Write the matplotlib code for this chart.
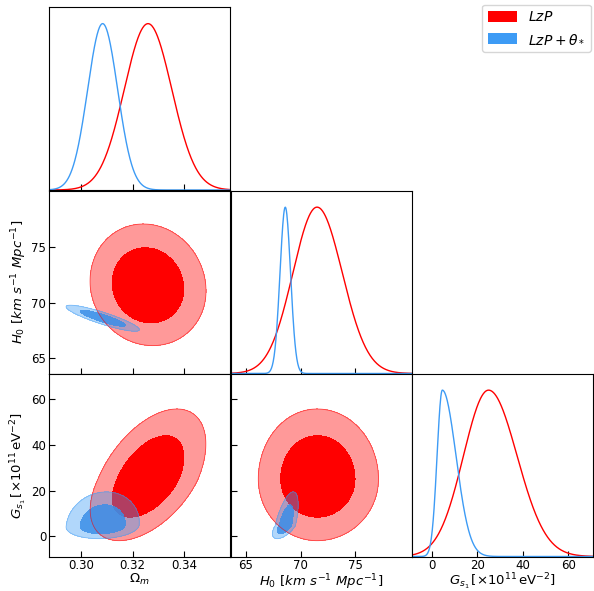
import numpy as np
import matplotlib
matplotlib.use('Agg')
import matplotlib.pyplot as plt
from matplotlib.patches import Patch

# parameter order: Omega_m, H0, G_s1
names = [r'$\Omega_m$', r'$H_0\ [km\ s^{-1}\ Mpc^{-1}]$',
         r'$G_{s_1}\,[\times 10^{11}\,\mathrm{eV}^{-2}]$']
limits = [(0.2876, 0.3579), (63.6, 80.15), (-8.7, 70.9)]
ticks = [[0.30, 0.32, 0.34], [65, 70, 75], [0, 20, 40, 60]]
ticklabels = [['0.30', '0.32', '0.34'], ['65', '70', '75'], ['0', '20', '40', '60']]

# LzP: mode, lower / upper widths, pair correlations
lzp_mode = [0.326, 71.5, 25.0]
lzp_lo = [0.0092, 2.2, 11.0]
lzp_hi = [0.0092, 2.3, 12.5]
lzp_corr = {(0, 1): -0.08, (0, 2): 0.5, (1, 2): 0.0}

# LzP + theta_*
th_mode = [0.3084, 68.6, 4.7]
th_lo = [0.0058, 0.48, 2.3]
th_hi = [0.0058, 0.48, 6.0]
th_corr = {(0, 1): -0.88, (0, 2): 0.1, (1, 2): 0.62}

labels = [r'$LzP$', r'$LzP+\theta_*$']
red = '#ff0000'
blue_line = '#3d9bf5'
blue_fill = '#3a8ee8'

datasets = [
    (lzp_mode, lzp_lo, lzp_hi, lzp_corr, red, red),
    (th_mode, th_lo, th_hi, th_corr, blue_line, blue_fill),
]


def zc(x, mode, lo, hi):
    return np.where(x < mode, (x - mode) / lo, (x - mode) / hi)


def contour_levels(P, fracs):
    flat = np.sort(P.ravel())[::-1]
    cum = np.cumsum(flat) / flat.sum()
    return [flat[np.searchsorted(cum, f)] for f in fracs]


fig = plt.figure(figsize=(5.94, 5.91), dpi=100)
W, H = 594.0, 591.0
col_left = [49.0, 230.5, 411.8]
row_top = [7.0, 190.5, 373.5]
pw, ph = 181.3, 183.0

n = 3
for i in range(n):
    for j in range(i + 1):
        ax = fig.add_axes([col_left[j] / W, 1 - (row_top[i] + ph) / H, pw / W, ph / H])
        ax.tick_params(direction='in', labelsize=8.5, length=4, pad=2)
        xs = np.linspace(limits[j][0], limits[j][1], 400)
        if i == j:
            for mode, lo, hi, corr, lc, fc in datasets:
                z = zc(xs, mode[j], lo[j], hi[j])
                ax.plot(xs, np.exp(-0.5 * z ** 2), color=lc, lw=1.0)
            ax.set_ylim(0, 1.1)
            ax.set_yticks([])
        else:
            ys = np.linspace(limits[i][0], limits[i][1], 400)
            X, Y = np.meshgrid(xs, ys)
            for mode, lo, hi, corr, lc, fc in datasets:
                zx = zc(X, mode[j], lo[j], hi[j])
                zy = zc(Y, mode[i], lo[i], hi[i])
                r = corr[(j, i)]
                P = np.exp(-0.5 * (zx ** 2 - 2 * r * zx * zy + zy ** 2) / (1 - r ** 2))
                l95, l68 = contour_levels(P, [0.95, 0.68])
                top = P.max() * 1.01
                if fc == red:
                    ax.contourf(X, Y, P, levels=[l95, top], colors=[red], alpha=0.4)
                    ax.contour(X, Y, P, levels=[l95], colors=[red], linewidths=0.6, alpha=0.6)
                    ax.contourf(X, Y, P, levels=[l68, top], colors=[red])
                else:
                    ax.contourf(X, Y, P, levels=[l95, top], colors=[lc], alpha=0.4)
                    ax.contour(X, Y, P, levels=[l95], colors=[lc], linewidths=0.6, alpha=0.5)
                    ax.contourf(X, Y, P, levels=[l68, top], colors=[fc], alpha=0.85)
            ax.set_ylim(limits[i])
            ax.set_yticks(ticks[i])
            if j == 0:
                ax.set_yticklabels(ticklabels[i])
                ax.set_ylabel(names[i], fontsize=9.5, labelpad=1.5)
            else:
                ax.set_yticklabels([])
        ax.set_xlim(limits[j])
        ax.set_xticks(ticks[j])
        if i == n - 1:
            ax.set_xticklabels(ticklabels[j])
            ax.set_xlabel(names[j], fontsize=9.5, labelpad=0)
        else:
            ax.set_xticklabels([])

handles = [Patch(facecolor=red, edgecolor='none'), Patch(facecolor=blue_line, edgecolor='none')]
fig.legend(handles, labels, loc='upper right', bbox_to_anchor=(0.999, 0.997), fontsize=10,
           handlelength=2.1, handleheight=0.8, borderaxespad=0.2, labelspacing=0.6)

fig.savefig('out.png', dpi=100)
